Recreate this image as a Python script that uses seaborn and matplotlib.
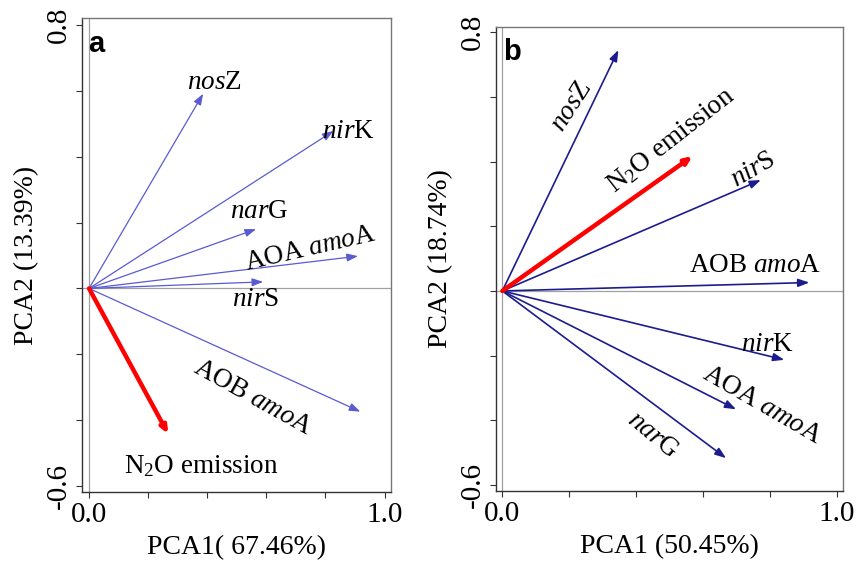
import matplotlib
matplotlib.use("Agg")
import matplotlib.pyplot as plt
import seaborn as sns

# ---------------- data (PCA loadings) ----------------
genes_a = ["nosZ", "nirK", "narG", "AOA amoA", "nirS", "AOB amoA"]
pc1_a = [0.386, 0.827, 0.565, 0.910, 0.589, 0.918]
pc2_a = [0.591, 0.478, 0.180, 0.098, 0.020, -0.374]
n2o_a = (0.268, -0.442)

genes_b = ["nosZ", "nirS", "AOB amoA", "nirK", "AOA amoA", "narG"]
pc1_b = [0.347, 0.773, 0.918, 0.843, 0.699, 0.669]
pc2_b = [0.745, 0.343, 0.026, -0.213, -0.366, -0.517]
n2o_b = (0.569, 0.417)

xlabels = ["PCA1( 67.46%)", "PCA1 (50.45%)"]
ylabels = ["PCA2 (13.39%)", "PCA2 (18.74%)"]
panel_tags = ["a", "b"]

# label text for each gene (italic gene part)
TEX = {
    "nosZ": r"$\mathit{nos}$Z",
    "nirK": r"$\mathit{nir}$K",
    "narG": r"$\mathit{nar}$G",
    "nirS": r"$\mathit{nir}$S",
    "AOA amoA": r"AOA $\mathit{amo}$A",
    "AOB amoA": r"AOB $\mathit{amo}$A",
}
N2O_TEXT = r"N$_2$O emission"

# label placement: (x, y, rotation) per panel
LAB_A = {
    "nosZ": (0.424, 0.625, 0), "nirK": (0.877, 0.477, 0), "narG": (0.575, 0.234, 0),
    "AOA amoA": (0.750, 0.122, 13), "nirS": (0.565, -0.035, 0), "AOB amoA": (0.555, -0.331, -29),
    "N2O": (0.380, -0.541, 0),
}
LAB_B = {
    "nosZ": (0.208, 0.570, 57), "nirS": (0.750, 0.374, 30), "AOB amoA": (0.756, 0.080, 0),
    "nirK": (0.794, -0.167, 0), "AOA amoA": (0.776, -0.352, -30), "narG": (0.451, -0.445, -40),
    "N2O": (0.504, 0.465, 38),
}

sns.set_theme(style="ticks")
plt.rcParams["font.family"] = ["Liberation Serif", "DejaVu Serif"]
plt.rcParams["mathtext.fontset"] = "custom"
plt.rcParams["mathtext.rm"] = "Liberation Serif"
plt.rcParams["mathtext.it"] = "Liberation Serif:italic"
plt.rcParams["text.color"] = "black"
plt.rcParams["axes.labelcolor"] = "black"
plt.rcParams["xtick.labelcolor"] = "black"
plt.rcParams["ytick.labelcolor"] = "black"

fig = plt.figure(figsize=(8.6, 5.63), dpi=100)
ax_a = fig.add_axes([0.0953, 0.1261, 0.3594, 0.8419])
ax_b = fig.add_axes([0.5767, 0.1279, 0.4033, 0.8247])

panels = [
    (ax_a, genes_a, pc1_a, pc2_a, n2o_a, LAB_A, "#5a5ad2", 0.9, (-0.024, 1.022), (-0.618, 0.821)),
    (ax_b, genes_b, pc1_b, pc2_b, n2o_b, LAB_B, "#1c1c8e", 1.2, (-0.019, 1.018), (-0.6185, 0.817)),
]

for i, (ax, genes, xs, ys, n2o, lab, col, lw, xl, yl) in enumerate(panels):
    ax.set_xlim(*xl)
    ax.set_ylim(*yl)
    ax.axhline(0, color="#a0a0a0", lw=0.9, zorder=0)
    ax.axvline(0, color="#a0a0a0", lw=0.9, zorder=0)

    for g, x, y in zip(genes, xs, ys):
        ax.annotate("", xy=(x, y), xytext=(0, 0),
                    arrowprops=dict(arrowstyle="-|>,head_length=0.55,head_width=0.2",
                                    color=col, lw=lw, shrinkA=0, shrinkB=0))
        tx, ty, rot = lab[g]
        ax.text(tx, ty, TEX[g], fontsize=19.5, rotation=rot, ha="center", va="center",
                rotation_mode="anchor")

    ax.annotate("", xy=n2o, xytext=(0, 0),
                arrowprops=dict(arrowstyle="-|>,head_length=0.35,head_width=0.15",
                                color="#ff0000", lw=3.2, shrinkA=0, shrinkB=0))
    tx, ty, rot = lab["N2O"]
    ax.text(tx, ty, N2O_TEXT, fontsize=19.5, rotation=rot, ha="center", va="center",
            rotation_mode="anchor")

    ax.text(0.02, 0.975, panel_tags[i], transform=ax.transAxes, fontsize=21,
            fontweight="bold", family="Liberation Sans", ha="left", va="top")

    ax.set_xticks([0, 0.2, 0.4, 0.6, 0.8, 1.0])
    ax.set_xticklabels(["0.0", "", "", "", "", "1.0"], fontsize=21)
    ax.set_yticks([-0.6, -0.4, -0.2, 0, 0.2, 0.4, 0.6, 0.8])
    ax.set_yticklabels(["-0.6", "", "", "", "", "", "", "0.8"], fontsize=21,
                       rotation=90, va="center")
    ax.tick_params(direction="out", length=4, width=0.8, color="#333333", pad=3)
    ax.set_xlabel(xlabels[i], fontsize=20, labelpad=5)
    ax.set_ylabel(ylabels[i], fontsize=20, labelpad=5)

    for side in ["left", "bottom"]:
        ax.spines[side].set_color("#333333")
        ax.spines[side].set_linewidth(1.0)
    for side in ["top", "right"]:
        ax.spines[side].set_visible(True)
        ax.spines[side].set_color("#777777")
        ax.spines[side].set_linewidth(1.0)

fig.savefig("out.png", dpi=100)
